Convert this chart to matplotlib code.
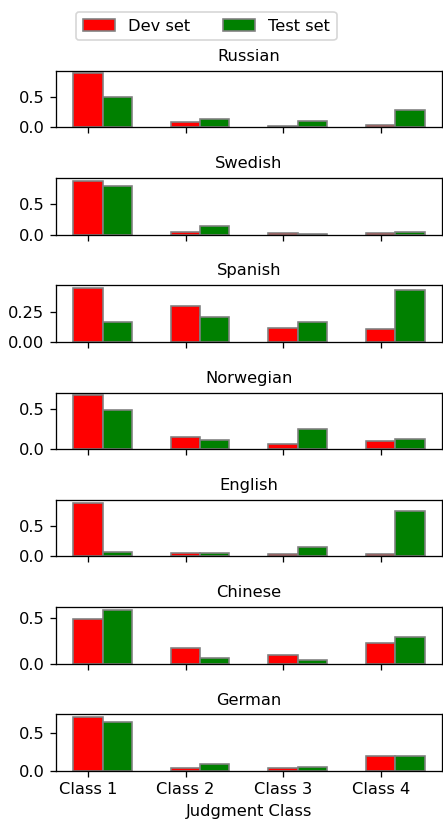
import matplotlib
matplotlib.use('Agg')
import matplotlib.pyplot as plt
import numpy as np

# Distribution of judgment classes per language, dev vs test
languages = ['Russian', 'Swedish', 'Spanish', 'Norwegian', 'English', 'Chinese', 'German']
classes = ['Class 1', 'Class 2', 'Class 3', 'Class 4']

dev_russian = [0.88, 0.08, 0.02, 0.04]
test_russian = [0.49, 0.13, 0.11, 0.28]
dev_swedish = [0.885, 0.05, 0.02, 0.03]
test_swedish = [0.79, 0.135, 0.015, 0.05]
dev_spanish = [0.455, 0.30, 0.12, 0.11]
test_spanish = [0.17, 0.21, 0.167, 0.44]
dev_norwegian = [0.675, 0.146, 0.066, 0.10]
test_norwegian = [0.495, 0.12, 0.246, 0.13]
dev_english = [0.88, 0.05, 0.04, 0.04]
test_english = [0.065, 0.055, 0.15, 0.74]
dev_chinese = [0.49, 0.17, 0.09, 0.225]
test_chinese = [0.59, 0.06, 0.045, 0.29]
dev_german = [0.705, 0.035, 0.04, 0.20]
test_german = [0.64, 0.095, 0.05, 0.19]

dev_sets = [dev_russian, dev_swedish, dev_spanish, dev_norwegian,
            dev_english, dev_chinese, dev_german]
test_sets = [test_russian, test_swedish, test_spanish, test_norwegian,
             test_english, test_chinese, test_german]

x = np.arange(len(classes))
width = 0.3

dpi = 117
fig, axes = plt.subplots(len(languages), 1, figsize=(443 / dpi, 820 / dpi), dpi=dpi, sharex=True)
fig.subplots_adjust(left=0.126, right=0.998, bottom=0.0598, top=0.9138, hspace=0.896)

for ax, lang, dev, test in zip(axes, languages, dev_sets, test_sets):
    b1 = ax.bar(x, dev, width, color='red', edgecolor='grey', label='Dev set')
    b2 = ax.bar(x + width, test, width, color='green', edgecolor='grey', label='Test set')
    ax.set_title(lang, fontsize=10)

axes[-1].set_xticks(x)
axes[-1].set_xticklabels(classes)
axes[-1].set_xlabel('Judgment Class')

fig.legend([b1, b2], ['Dev set', 'Test set'], loc='upper center', ncol=2,
           bbox_to_anchor=(0.466, 0.995))

fig.savefig('out.png', dpi=dpi)
